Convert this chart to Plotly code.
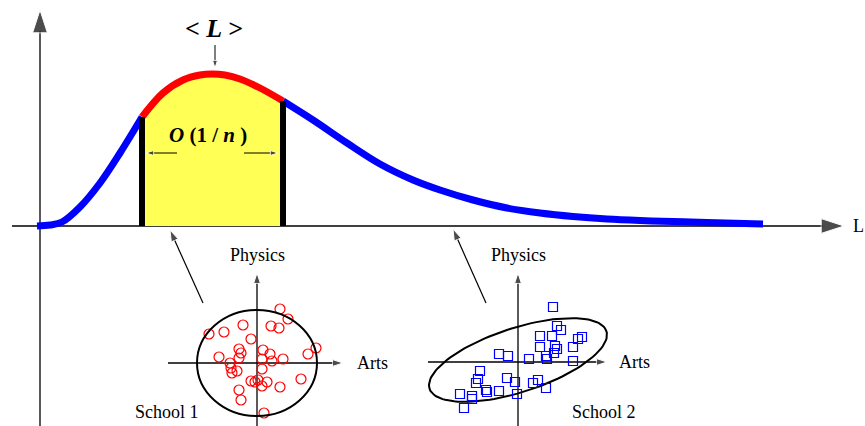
import numpy as np
import plotly.graph_objects as go

W, H = 865, 426
BASE_Y = 226          # pixel row of the L axis
AXIS_X = 40           # pixel column of the vertical axis
SERIF = "Liberation Serif, Times New Roman, serif"

# distribution curve (x px, y px from top)
left_x = [37, 50, 62, 80, 100, 120, 142]
left_y = [226, 225, 222, 207, 183, 153, 117]
peak_x = [142, 163, 183, 200, 212, 225, 240, 260, 283]
peak_y = [117, 93, 80, 75, 74, 75, 79, 88, 101]
tail_x = [283, 313, 347, 380, 413, 440, 473, 507, 540, 573, 607, 640, 673, 707, 763]
tail_y = [101, 120, 143, 164, 180, 190, 200, 208, 213, 216.5, 219, 220.5, 221.5, 222.5, 224]

# scores relative to each school's own axes origin (arts right, physics up)
school1_arts = [23, 31, -48, -33, -14, 14, 22, -6, -18, -16, 6, 13, 59, 51, -38, -18, 5,
                15, 26, -27, -26, -20, -25, 5, 44, -6, -2, 1, 10, 5, 23, -18, -16, 7]
school1_phys = [54, 44, 29, 31, 38, 37, 35, 24, 14, 10, 13, 9, 15, 9, 6, 5, 4,
                2, 4, 0, -5, -8, -10, -6, -16, -18, -19, -17, -19, -23, -24, -27, -37, -50]
school2_arts = [35, 39, 43, 22, 34, 60, 64, 22, 37, 39, 55, 36, -19, -10, 11, 28, 29,
                55, -38, -40, -42, -11, -3, 20, 15, 28, -32, -31, -19, -1, -58, -46, -46, -54]
school2_phys = [55, 36, 32, 26, 26, 23, 25, 15, 16, 13, 15, 9, 8, 6, 3, 6, 3,
                1, -9, -17, -21, -16, -20, -18, -21, -26, -28, -30, -29, -32, -32, -34, -37, -46]

S1 = (257, 363)
S2 = (518, 362)

fig = go.Figure()


def line(xs, ys, color="black", width=1.5):
    fig.add_trace(go.Scatter(x=xs, y=ys, mode="lines", hoverinfo="skip",
                             line=dict(color=color, width=width)))


def arrow(x0, y0, x1, y1, size, width=1.3):
    fig.add_trace(go.Scatter(
        x=[x0, x1], y=[y0, y1], mode="lines+markers", hoverinfo="skip",
        line=dict(color="black", width=width),
        marker=dict(symbol="arrow", size=[0, size], angleref="previous", color="black")))


def text(x, y, s, size=18, anchor="center"):
    fig.add_annotation(x=x, y=y, text=s, showarrow=False, xanchor=anchor,
                       font=dict(family=SERIF, size=size, color="black"))


# main axes
arrow(AXIS_X, H, AXIS_X, 10, 24)
arrow(12, BASE_Y, 844, BASE_Y, 24)
text(851, BASE_Y, "L", 18, "left")

# yellow band under the peak
fig.add_trace(go.Scatter(x=peak_x + [peak_x[-1], peak_x[0]],
                         y=peak_y + [BASE_Y, BASE_Y], fill="toself",
                         fillcolor="#ffff55", mode="lines", line=dict(width=0),
                         hoverinfo="skip"))

# the curve
for xs, ys, c in [(left_x, left_y, "#0000ff"), (tail_x, tail_y, "#0000ff"),
                  (peak_x, peak_y, "#ff0000")]:
    fig.add_trace(go.Scatter(x=xs, y=ys, mode="lines", hoverinfo="skip",
                             line=dict(color=c, width=7, shape="spline")))

# black bars at the band edges
line([peak_x[0]] * 2, [peak_y[0], BASE_Y], width=6)
line([peak_x[-1]] * 2, [peak_y[-1], BASE_Y], width=6)

# <L> and O(1/n)
text(214, 28, "<b><i>&lt; L &gt;</i></b>", 26)
arrow(215, 45, 215, 68, 8, 1)
text(208, 135, "<b><i>O</i> (1 / <i>n</i> )</b>", 21)
arrow(177, 153, 146, 153, 8, 1)
arrow(244, 153, 278, 153, 8, 1)

# pointers from the school plots
arrow(203, 303, 170, 230, 12, 1.2)
arrow(486, 303, 453, 229, 12, 1.2)

# school 1
ox, oy = S1
arrow(168, oy, 343, oy, 11, 1.3)
arrow(ox, H, ox, 273, 11, 1.3)
fig.add_shape(type="circle", x0=ox - 60, x1=ox + 60, y0=oy - 53, y1=oy + 53,
              line=dict(color="black", width=2))
fig.add_trace(go.Scatter(x=[ox + a for a in school1_arts],
                         y=[oy - p for p in school1_phys], mode="markers",
                         marker=dict(symbol="circle-open", size=10, color="#ff0000",
                                     line=dict(width=1.2)), hoverinfo="skip"))
text(ox, 255, "Physics")
text(355, oy, "Arts", anchor="left")
text(167, 412, "School 1")

# school 2
ox, oy = S2
arrow(428, oy, 607, oy, 11, 1.3)
arrow(ox, H, ox, 273, 11, 1.3)
t = np.linspace(0, 2 * np.pi, 120)
ang = np.deg2rad(18)
ex = 93 * np.cos(t) * np.cos(ang) - 32 * np.sin(t) * np.sin(ang)
ey = 93 * np.cos(t) * np.sin(ang) + 32 * np.sin(t) * np.cos(ang)
line(ox + ex, oy - 2 - ey, width=2)
fig.add_trace(go.Scatter(x=[ox + a for a in school2_arts],
                         y=[oy - p for p in school2_phys], mode="markers",
                         marker=dict(symbol="square-open", size=9, color="#0000ff",
                                     line=dict(width=1.2)), hoverinfo="skip"))
text(ox, 255, "Physics")
text(617, oy, "Arts", anchor="left")
text(604, 412, "School 2")

fig.update_layout(
    width=W, height=H, margin=dict(l=0, r=0, t=0, b=0),
    paper_bgcolor="white", plot_bgcolor="white", showlegend=False,
    xaxis=dict(range=[0, W], visible=False, fixedrange=True),
    yaxis=dict(range=[H, 0], visible=False, fixedrange=True),
)

# drop the browser's default body margin so the figure fills the window
fig.write_html("out.html", config={"displayModeBar": False},
               post_script="document.body.style.margin = '0';")
